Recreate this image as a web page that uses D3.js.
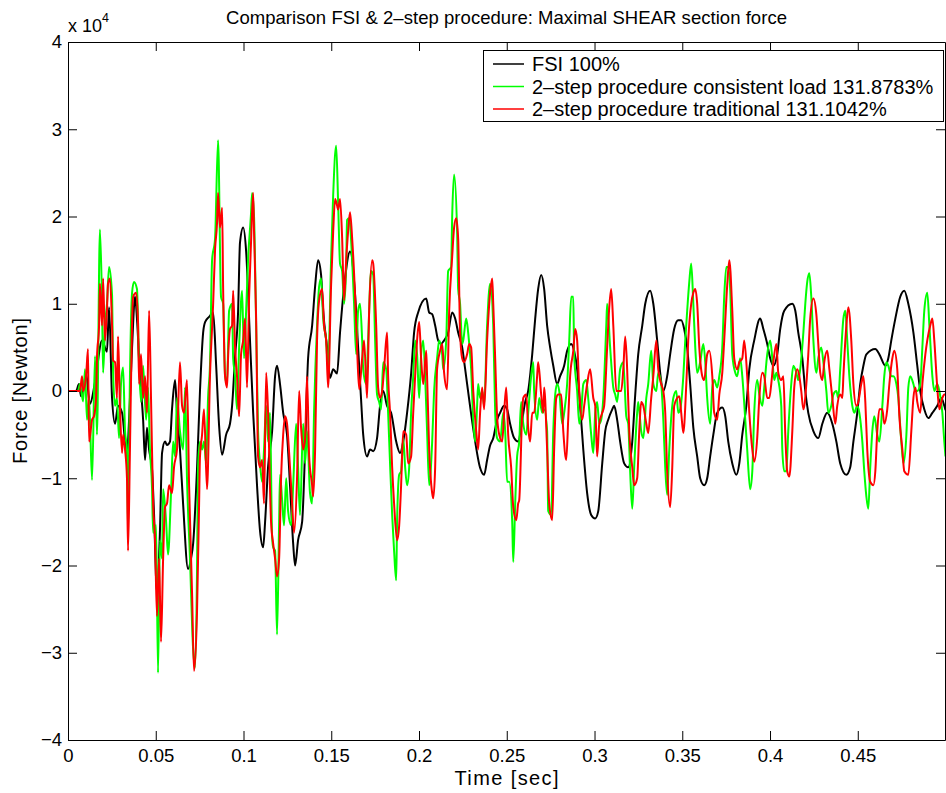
<!DOCTYPE html>
<html><head><meta charset="utf-8">
<script src="https://cdn.jsdelivr.net/npm/d3@7"></script>
<style>body{margin:0;background:#fff} text{font-family:"Liberation Sans",Arial,Helvetica,sans-serif}</style>
</head><body><svg id="c" width="946" height="793"></svg>
<script>
// time in milliseconds, force in units of 10^4 N
const xTicks=[0,50,100,150,200,250,300,350,400,450];
const xTickLabels=["0","0.05","0.1","0.15","0.2","0.25","0.3","0.35","0.4","0.45"];
const yTicks=[-4,-3,-2,-1,0,1,2,3,4];
const yTickLabels=["\u22124","\u22123","\u22122","\u22121","0","1","2","3","4"];
const seriesNames=["FSI 100%","2\u2013step procedure consistent load 131.8783%","2\u2013step procedure traditional 131.1042%"];
const seriesColors=["#000000","#00ff00","#ff0000"];

const fsi=[[0,0],[4.6,0],[6.3,0.08],[7.4,-0.06],[8.6,0],[10.3,0.2],[12.5,-0.15],[15.4,0.1],[19.4,0.58],[22.2,0.45],[23.4,0.96],[25.1,-0.08],[26.8,-0.375],[28.5,-0.17],[30.8,-0.25],[33.6,-0.75],[34.8,-0.33],[36.5,0.5],[38.2,1.08],[39.3,0.83],[41.0,0.17],[42.8,-0.33],[43.9,-0.79],[45.0,-0.42],[46.2,-0.67],[47.9,-0.9],[49.0,-1.4],[50.7,-2.3],[52.4,-1.6],[53.6,-0.71],[55.3,-0.58],[56.4,-0.62],[58.1,-0.58],[59.3,-0.2],[61.0,0.125],[62.1,-0.25],[63.8,-0.67],[65.6,-1.3],[68.4,-2.04],[70.1,-1.92],[71.3,-1.75],[73.5,-0.9],[75.2,0],[77.0,0.67],[78.1,0.79],[80.4,0.85],[82.7,0.9],[84.4,0.3],[86.1,-0.4],[87.8,-0.73],[90.1,-0.5],[92.3,-0.375],[93.5,-0.17],[95.2,0.4],[96.9,0.9],[98.0,1.7],[99.8,1.875],[101.5,1.6],[103.7,0.58],[105.5,-0.25],[107.7,-1.08],[109.4,-1.6],[111.2,-1.79],[112.3,-1.5],[114.0,-0.87],[116.3,-0.46],[118.0,0.17],[119.1,0.29],[120.8,0.08],[122.6,-0.25],[124.8,-0.5],[126.5,-1.08],[128.3,-1.75],[129.4,-2.0],[131.1,-1.71],[133.4,-1.5],[135.1,-0.67],[136.8,0.375],[139.1,0.75],[140.8,1.2],[142.5,1.5],[144.2,1.33],[145.4,0.92],[147.6,0.5],[149.3,0.15],[151.1,0.25],[153.3,0.2],[155.0,0.67],[157.9,1.3],[160.7,1.6],[163.6,1.1],[165.3,0.5],[167.0,-0.1],[168.2,-0.5],[170.4,-0.75],[172.1,-0.67],[173.9,-0.69],[176.1,-0.54],[177.8,-0.17],[179.6,0.0],[181.8,-0.17],[184.1,-0.25],[187.0,-0.58],[189.2,-0.71],[191.0,-0.58],[193.2,-0.25],[195.5,0.2],[197.2,0.67],[199.5,0.9],[204.1,1.06],[205.8,0.9],[207.5,0.88],[209.2,0.75],[210.9,0.58],[212.6,0.54],[214.3,0.58],[216.6,0.67],[218.9,0.9],[220.6,0.83],[222.3,0.67],[224.6,0.5],[226.3,0.25],[228.6,-0.1],[231.4,-0.5],[234.8,-0.88],[237.1,-0.96],[238.8,-0.79],[240.5,-0.625],[242.3,-0.54],[244.5,-0.33],[246.2,-0.25],[248.5,-0.17],[250.2,-0.21],[251.9,-0.375],[254.2,-0.54],[256.5,-0.58],[258.8,-0.33],[260.5,-0.125],[262.2,0.0],[264.5,0.42],[266.2,0.83],[267.9,1.17],[269.6,1.33],[271.3,1.17],[273.0,0.75],[274.7,0.5],[276.5,0.29],[278.7,0.08],[280.4,0.17],[282.7,0.29],[284.4,0.46],[286.7,0.54],[288.4,0.46],[290.1,0.25],[291.8,-0.17],[293.6,-0.67],[295.8,-1.17],[298.1,-1.42],[300.4,-1.46],[302.1,-1.38],[304.4,-0.83],[306.1,-0.46],[307.8,-0.33],[310.1,-0.21],[311.2,-0.17],[312.9,-0.33],[314.6,-0.58],[316.9,-0.83],[319.2,-0.875],[321.5,-0.58],[323.2,-0.04],[324.9,0.42],[327.2,0.75],[328.9,1.0],[331.7,1.15],[333.5,1.0],[335.7,0.58],[337.4,0.21],[339.2,0.0],[341.4,0.17],[343.1,0.42],[345.4,0.71],[347.7,0.81],[349.4,0.81],[351.1,0.71],[352.8,0.5],[354.5,0.08],[356.3,-0.42],[358.5,-0.75],[360.2,-1.0],[362.5,-1.08],[364.2,-1.0],[365.9,-0.75],[367.7,-0.5],[369.9,-0.25],[372.8,-0.19],[374.5,-0.29],[376.2,-0.58],[378.5,-0.83],[380.8,-0.96],[382.5,-0.83],[384.2,-0.5],[386.5,-0.17],[388.2,0.25],[391.0,0.58],[394.4,0.83],[396.2,0.71],[398.4,0.54],[400.1,0.375],[401.9,0.29],[404.1,0.42],[405.8,0.71],[408.1,0.92],[412.7,1.0],[414.4,0.92],[416.1,0.67],[418.4,0.375],[420.1,0.0],[421.8,-0.25],[424.7,-0.46],[427.5,-0.54],[429.8,-0.375],[432.6,-0.25],[435.5,-0.375],[437.8,-0.58],[440.0,-0.83],[443.5,-0.96],[445.7,-0.875],[447.5,-0.58],[449.7,-0.25],[451.4,0.08],[453.2,0.29],[454.9,0.42],[460.0,0.48],[462.3,0.42],[465.7,0.29],[467.4,0.375],[469.1,0.58],[471.4,0.83],[474.2,1.08],[476.5,1.15],[478.8,1.0],[481.7,0.67],[483.9,0.29],[485.6,0.0],[487.9,-0.21],[490.2,-0.31],[492.5,-0.25],[495.3,-0.17],[497.6,-0.08],[499.3,-0.17],[500,-0.22]];

const consistentLoad=[[0,0],[5.7,0],[6.8,0.08],[8.6,-0.12],[9.7,0.25],[10.8,-0.33],[12.0,-0.08],[13.7,-1.02],[15.4,0.4],[16.5,-0.5],[18.2,1.85],[19.4,1.0],[20.0,0.21],[21.1,0.75],[22.2,1.0],[23.4,1.42],[25.1,1.1],[25.7,0.21],[26.8,-0.17],[27.9,-0.08],[29.1,-0.54],[30.2,0.08],[31.4,0.27],[32.5,-0.46],[33.6,-0.67],[34.2,-1.625],[35.3,0.17],[36.5,1.125],[37.6,1.25],[39.3,1.17],[40.5,0.29],[41.6,-0.125],[42.8,0.29],[44.5,-0.33],[45.6,0.04],[46.7,-0.67],[47.9,-1.125],[48.5,-1.625],[50.2,-1.54],[51.3,-3.23],[52.4,-1.71],[53.6,-1.92],[54.2,-1.125],[55.9,-1.5],[57.0,-1.875],[58.7,-1.17],[59.9,-0.58],[61.0,-0.75],[62.1,-0.08],[63.8,-0.46],[65.6,-0.67],[66.7,0.04],[67.8,-1.0],[69.5,-1.92],[71.3,-2.96],[72.4,-3.17],[73.5,-2.1],[74.1,-0.875],[75.2,-0.58],[76.4,-0.67],[77.5,-0.58],[78.7,-0.83],[79.8,-0.08],[80.9,0.3],[82.1,1.5],[83.8,1.75],[85.5,2.875],[87.2,1.08],[88.4,1.0],[89.5,0.17],[90.6,0.08],[91.8,0.92],[93.5,1.0],[94.1,0.375],[95.2,0.17],[96.3,-0.21],[97.5,0.5],[99.2,1.15],[100.3,0.375],[101.5,0.92],[102.6,1.5],[104.3,2.04],[104.9,2.27],[106.0,2.0],[107.2,0.75],[108.3,-0.46],[109.4,-0.83],[110.6,-1.04],[111.7,-0.67],[112.9,-0.17],[114.0,-0.58],[115.1,-0.25],[116.3,-1.67],[116.9,-1.79],[118.0,-1.83],[119.1,-2.79],[120.3,-1.5],[120.8,-0.96],[122.0,-1.25],[123.1,-1.54],[124.3,-1.0],[125.4,-1.375],[127.1,-1.54],[128.3,-1.08],[130.0,-0.375],[131.1,-0.875],[132.2,-1.42],[134.0,-0.375],[135.1,-0.83],[136.2,-0.46],[137.9,-1.17],[139.1,-1.29],[140.2,-0.25],[141.9,0.75],[143.1,1.2],[144.2,1.29],[145.4,0.83],[147.1,0.58],[148.2,0.25],[149.9,1.5],[151.1,2.25],[152.8,2.81],[153.9,2.17],[155.0,1.46],[156.2,1.375],[157.3,1.0],[158.5,1.42],[159.0,1.96],[160.2,1.98],[161.9,1.5],[163.0,1.0],[164.2,0.42],[165.3,0.92],[166.4,1.0],[167.6,0.58],[168.2,0.25],[169.9,0.08],[171.0,0.58],[172.7,1.375],[173.9,1.33],[175.0,0.58],[176.1,-0.04],[177.3,-0.125],[178.4,-0.21],[179.6,0.33],[181.3,0.25],[182.4,-0.25],[183.5,-0.83],[184.7,-1.42],[185.8,-1.83],[187.0,-2.17],[187.5,-1.5],[188.7,-0.96],[189.8,-0.92],[191.0,-0.54],[192.1,-0.875],[193.2,-1.08],[194.4,-0.875],[195.5,-0.25],[196.7,0.17],[197.8,0.58],[198.9,0.42],[200.1,-0.08],[201.2,0.42],[202.4,0.58],[203.5,0.17],[204.6,-0.46],[205.8,-1.08],[207.5,-0.58],[208.6,0.0],[210.3,0.375],[211.5,0.58],[213.2,0.42],[213.8,0.25],[215.5,0.58],[216.6,1.375],[218.3,1.42],[218.9,2.0],[220.0,2.48],[221.7,1.83],[222.3,1.17],[223.4,1.0],[224.6,0.54],[225.2,0.58],[226.9,0.83],[228.0,0.67],[229.7,0.25],[230.9,-0.33],[232.0,-0.58],[233.1,-0.17],[233.7,0.08],[234.8,-0.08],[236.0,0.0],[237.1,-0.17],[238.8,0.75],[240.5,1.23],[242.3,0.75],[243.4,-0.25],[244.5,-0.54],[246.2,-0.58],[248.0,-0.25],[249.1,-0.46],[250.2,-1.04],[251.4,-1.04],[253.1,-1.5],[253.7,-1.96],[254.8,-1.29],[255.9,-0.75],[257.1,-0.58],[258.2,-0.125],[259.4,-0.375],[261.1,-0.5],[262.2,-0.25],[263.9,0.17],[265.1,0.33],[265.6,0.0],[267.3,-0.33],[268.5,-0.08],[270.2,-0.25],[271.3,-0.21],[273.0,-0.46],[273.6,-1.375],[275.3,-1.42],[276.5,-0.46],[277.6,-0.04],[278.7,0.08],[279.9,0.0],[281.6,-0.375],[282.7,-0.25],[284.4,0.08],[285.6,0.58],[286.7,1.08],[287.9,1.08],[288.4,0.42],[290.1,0.0],[291.3,-0.375],[292.4,-0.25],[293.6,0.08],[295.3,0.125],[296.4,-0.08],[298.1,-0.5],[299.3,-0.71],[300.4,-0.25],[301.5,-0.125],[302.7,-0.375],[303.8,-0.33],[305.0,-0.08],[306.7,0.75],[307.2,1.0],[308.9,0.5],[310.7,0.04],[311.8,-0.04],[312.9,-0.125],[314.6,0.25],[316.4,0.33],[318.1,-0.29],[319.2,-0.375],[320.3,-0.92],[321.5,-1.35],[322.6,-0.875],[324.3,-0.25],[324.9,-0.125],[326.6,-0.46],[327.8,-0.54],[329.5,-0.08],[330.6,0.08],[332.3,0.46],[333.5,0.08],[335.2,0.0],[336.3,0.21],[338.0,0.08],[339.2,-0.33],[340.3,-0.875],[341.4,-1.19],[342.6,-0.67],[344.3,-0.17],[344.9,-0.08],[346.6,0.0],[347.7,-0.25],[348.8,-0.21],[350.6,0.17],[351.7,0.58],[352.8,0.92],[354.0,1.25],[355.1,1.46],[356.3,1.0],[357.4,0.5],[358.5,0.21],[360.2,0.33],[362.0,0.54],[363.1,0.33],[364.2,-0.08],[365.9,-0.375],[367.1,0.04],[368.2,0.125],[369.9,0.04],[371.1,0.17],[372.8,0.5],[373.9,1.08],[375.1,1.42],[376.2,1.42],[377.3,1.17],[378.5,0.42],[380.2,0.21],[381.3,0.17],[383.0,0.375],[384.2,0.17],[385.9,-0.33],[387.0,-0.67],[388.7,-1.125],[389.9,-0.92],[391.0,-0.25],[392.7,0.125],[393.9,-0.04],[395.6,-0.17],[396.7,0.04],[398.4,0.42],[400.1,0.58],[401.3,0.375],[402.4,0.125],[403.6,0.21],[404.7,0.125],[406.4,-0.17],[407.0,-0.67],[408.1,-0.92],[409.3,-0.92],[410.4,-0.46],[412.1,0.08],[413.3,0.29],[415.0,0.21],[416.1,0.125],[417.2,0.25],[419.0,0.67],[420.1,1.0],[421.2,1.25],[422.4,1.35],[423.5,1.08],[424.7,0.58],[426.4,0.21],[427.5,0.375],[429.2,0.5],[430.4,0.33],[432.1,0.0],[433.2,-0.25],[434.9,-0.17],[436.1,-0.04],[437.8,0.0],[438.9,-0.08],[440.0,0.25],[441.8,0.83],[442.9,0.92],[444.0,0.58],[445.2,0.17],[446.9,-0.17],[448.0,-0.25],[449.7,-0.17],[450.9,-0.25],[452.6,-0.58],[453.7,-0.92],[454.9,-1.21],[456.0,-1.35],[457.1,-0.875],[458.3,-0.46],[459.4,-0.29],[461.1,-0.5],[462.3,-0.58],[464.0,-0.17],[465.1,0.17],[466.3,0.33],[467.4,0.29],[469.1,0.17],[470.3,0.17],[472.0,0.08],[473.1,-0.08],[474.8,-0.58],[476.0,-0.83],[477.7,-0.5],[478.8,0.04],[479.9,0.17],[481.7,0.08],[482.8,0.0],[483.9,0.0],[485.6,0.08],[486.8,0.5],[487.9,0.92],[489.6,1.125],[490.8,0.75],[492.5,0.17],[493.6,0.0],[495.3,0.08],[496.5,0.0],[498.2,-0.25],[499.3,-0.58],[500,-0.75]];

const traditional=[[0,0],[6.8,0],[8.0,0.17],[8.6,0],[10.3,0.17],[11.4,0.48],[12.0,-0.58],[13.7,-0.33],[14.8,-0.29],[16.0,-0.08],[16.5,0.375],[17.7,0.75],[18.2,1.23],[19.4,0.75],[20.0,1.29],[21.1,0.58],[22.2,0.92],[22.8,1.23],[23.9,1.29],[25.1,0.75],[25.7,0.35],[26.8,0.33],[27.9,-0.08],[28.5,0.625],[29.6,-0.17],[30.8,-0.71],[31.4,-0.5],[32.5,-0.67],[33.6,-1.0],[34.2,-1.83],[35.3,-0.67],[36.5,0.79],[37.1,1.08],[38.8,1.125],[39.9,0.79],[40.5,0.08],[41.6,0.42],[42.8,-0.08],[43.9,0.17],[45.0,-0.25],[46.2,0.92],[47.3,-0.08],[48.5,-1.29],[49.6,-1.71],[50.7,-2.58],[51.9,-1.92],[53.0,-2.875],[54.2,-1.92],[55.3,-1.33],[56.4,-1.29],[57.6,-1.08],[59.3,-1.17],[60.4,-0.875],[62.1,-0.67],[62.7,-0.25],[63.8,0.33],[65.0,-0.17],[66.1,-0.25],[67.8,0.125],[69.0,-1.08],[70.7,-2.33],[71.8,-3.21],[73.5,-2.54],[74.7,-1.29],[75.2,-0.75],[76.4,-0.5],[77.5,-0.21],[79.2,-1.125],[80.9,0.17],[82.7,1.0],[83.8,1.625],[84.9,1.92],[85.5,2.27],[86.6,1.875],[87.8,2.1],[88.4,1.17],[89.5,0.17],[90.6,0.04],[91.2,0.375],[92.3,0.71],[93.5,0.75],[94.1,1.15],[95.2,0.5],[96.3,0.17],[97.5,-0.29],[98.6,0.42],[99.8,0.58],[100.9,0.83],[102.0,0.04],[103.2,1.08],[104.3,1.71],[105.5,2.27],[106.0,1.83],[107.2,0.83],[108.3,-0.75],[109.4,-0.875],[110.6,-0.79],[111.7,-1.29],[112.9,0.21],[114.0,-0.25],[115.7,-1.5],[116.9,-1.75],[118.0,-1.92],[119.1,-2.125],[120.3,-1.92],[121.4,-1.0],[122.6,-0.5],[123.7,-0.29],[124.8,-0.375],[126.0,-0.71],[127.7,-1.29],[128.8,-1.625],[130.5,-1.0],[131.7,0.0],[132.8,-0.42],[134.0,-0.67],[135.1,-0.54],[136.2,0.17],[137.4,-0.75],[139.1,-1.08],[139.7,-1.21],[140.8,-0.67],[141.9,0.58],[143.1,1.04],[144.8,1.17],[145.9,0.75],[147.1,0.58],[148.2,0.04],[149.9,1.21],[151.1,1.83],[152.2,2.2],[153.3,2.125],[153.9,2.08],[155.0,2.2],[156.2,1.75],[157.3,1.04],[158.5,1.5],[159.6,1.83],[160.7,2.05],[161.9,1.75],[163.6,1.08],[164.7,0.5],[165.9,0.02],[167.6,0.375],[168.7,0.58],[170.4,-0.08],[171.6,0.92],[173.3,1.5],[173.9,1.46],[175.6,0.75],[176.7,0.04],[177.8,-0.08],[179.0,0.0],[180.1,0.25],[181.8,0.67],[182.4,0.17],[183.5,-0.25],[184.7,-0.875],[185.8,-1.29],[187.5,-1.71],[188.7,-1.54],[189.8,-1.08],[191.0,-0.46],[192.7,-0.5],[193.8,-0.83],[195.5,-0.75],[196.7,-0.25],[197.8,0.17],[198.9,0.58],[200.1,0.79],[201.2,0.375],[202.4,0.08],[204.1,0.46],[204.6,0.17],[205.8,-0.67],[207.5,-1.17],[208.1,-1.23],[209.2,-0.875],[210.3,0.25],[212.0,0.46],[213.2,0.54],[214.3,0.21],[216.0,0.02],[217.2,0.92],[218.9,1.54],[220.0,1.875],[221.2,1.98],[222.3,1.75],[223.4,0.67],[224.6,0.375],[225.7,0.33],[227.4,0.42],[228.6,0.54],[229.7,0.5],[230.9,0.0],[232.6,-0.46],[233.7,-0.67],[234.8,-0.25],[236.0,0.04],[237.1,-0.21],[238.8,0.58],[240.5,1.125],[241.7,1.29],[242.3,1.0],[243.4,0.375],[244.5,-0.29],[245.7,-0.5],[247.4,-0.58],[248.5,-0.25],[249.7,0.04],[250.8,-0.5],[252.5,-0.875],[253.7,-1.33],[255.4,-1.48],[256.5,-1.29],[257.1,-1.25],[258.8,-0.25],[259.4,-0.08],[261.1,-0.04],[262.2,-0.42],[263.3,-0.58],[264.5,-0.25],[265.6,-0.25],[267.3,0.17],[267.9,0.33],[269.6,-0.04],[270.8,-0.25],[271.3,0.04],[273.0,-0.67],[274.2,-1.29],[275.9,-1.48],[277.0,-0.67],[278.2,-0.08],[279.3,-0.04],[281.0,-0.04],[282.2,-0.46],[283.9,-0.79],[285.0,-0.33],[286.1,0.17],[287.9,0.46],[289.0,0.71],[290.1,0.58],[291.3,0.0],[293.0,-0.33],[294.1,-0.17],[295.8,0.08],[297.5,0.25],[299.3,-0.08],[300.4,-0.17],[301.5,-0.75],[302.7,-0.375],[304.4,-0.25],[305.5,-0.17],[307.2,0.5],[308.4,0.96],[309.5,1.17],[310.7,0.75],[312.4,0.0],[313.5,0.0],[315.2,0.0],[316.4,0.25],[317.5,0.625],[318.6,0.25],[319.8,-0.46],[321.5,-0.875],[322.6,-1.08],[324.3,-1.0],[325.5,-0.46],[326.6,-0.125],[327.8,-0.17],[329.5,-0.375],[330.6,-0.48],[332.3,-0.08],[333.5,0.17],[335.2,0.58],[336.3,0.25],[338.0,0.08],[339.2,0.0],[340.3,-0.25],[341.4,-0.92],[343.1,-1.33],[344.3,-0.875],[345.4,-0.17],[347.1,-0.08],[348.3,-0.06],[349.4,-0.25],[350.6,-0.48],[352.3,0.08],[353.4,0.58],[355.1,1.0],[356.3,1.125],[357.4,1.17],[358.5,1.0],[359.7,0.5],[361.4,0.17],[362.5,0.125],[364.2,0.42],[365.4,0.46],[367.1,0.17],[368.2,-0.25],[369.9,-0.33],[371.1,-0.04],[372.8,0.21],[373.9,0.58],[375.6,1.21],[376.8,1.5],[378.5,0.92],[379.6,0.375],[381.3,0.25],[382.5,0.33],[384.2,0.375],[385.3,0.58],[387.0,0.17],[388.2,-0.25],[389.9,-0.67],[391.0,-0.81],[392.7,-0.54],[393.9,-0.08],[395.6,0.21],[396.7,0.17],[398.4,-0.08],[399.6,-0.08],[400.7,0.08],[401.9,0.33],[403.6,0.54],[404.7,0.21],[406.4,0.125],[407.6,0.17],[408.7,-0.5],[409.8,-0.92],[411.0,-0.98],[412.7,-0.46],[413.8,0.04],[415.5,0.25],[416.7,0.17],[417.8,0.0],[419.0,-0.21],[420.7,0.08],[421.8,0.42],[422.9,0.83],[424.7,1.06],[426.4,0.875],[427.5,0.54],[428.6,0.21],[429.8,0.125],[430.9,0.33],[432.6,0.46],[433.8,0.25],[435.5,-0.08],[437.2,-0.375],[438.3,-0.17],[440.0,-0.04],[441.2,-0.08],[441.8,0.17],[443.5,0.75],[444.6,0.96],[446.3,0.58],[447.5,0.08],[449.2,-0.17],[450.3,-0.125],[452.0,0.08],[453.2,0.17],[454.3,-0.125],[455.4,-0.67],[457.1,-1.04],[458.9,-1.08],[460.0,-0.92],[461.1,-0.46],[462.3,-0.21],[464.0,-0.21],[465.1,-0.375],[466.8,-0.21],[468.0,0.08],[469.7,0.375],[470.8,0.46],[472.5,0.25],[473.7,-0.29],[475.4,-0.67],[476.5,-0.92],[478.8,-0.96],[480.5,-0.46],[481.7,-0.08],[482.8,0.04],[483.9,-0.125],[485.6,-0.25],[486.8,0.08],[488.5,0.42],[489.6,0.58],[491.3,0.75],[492.5,0.83],[493.6,0.58],[495.3,0.04],[496.5,-0.21],[498.2,-0.08],[499.3,-0.04],[500,-0.04]];

const svg=d3.select("#c");
svg.append("rect").attr("width",946).attr("height",793).attr("fill","#fff");
const L=68,R=945,T=42,B=740;
const x=d3.scaleLinear().domain([0,499.7]).range([L,R]);
const y=d3.scaleLinear().domain([-4,4]).range([B,T]);

svg.append("defs").append("clipPath").attr("id","clip")
  .append("rect").attr("x",L).attr("y",T).attr("width",R-L).attr("height",B-T);

const line=d3.line().x(d=>x(d[0])).y(d=>y(d[1])).curve(d3.curveMonotoneX);
const g=svg.append("g").attr("clip-path","url(#clip)");
[fsi,consistentLoad,traditional].forEach((s,i)=>{
  g.append("path").datum(s).attr("d",line).attr("fill","none")
   .attr("stroke",seriesColors[i]).attr("stroke-width",2).attr("stroke-linejoin","round");
});

function styleAxis(a){
  a.select(".domain").attr("stroke","#000").attr("stroke-width",1);
  a.selectAll(".tick line").attr("stroke","#000");
  a.attr("font-family",'"Liberation Sans",Arial,sans-serif').attr("font-size",18.5);
  a.selectAll("text").attr("fill","#000");
}
const ax=svg.append("g").attr("transform",`translate(0,${B})`)
  .call(d3.axisBottom(x).tickValues(xTicks).tickFormat((d,i)=>xTickLabels[i]).tickSizeInner(-9).tickSizeOuter(0).tickPadding(9));
styleAxis(ax);
const axT=svg.append("g").attr("transform",`translate(0,${T})`)
  .call(d3.axisTop(x).tickValues(xTicks).tickFormat("").tickSizeInner(-9).tickSizeOuter(0));
styleAxis(axT);
const ay=svg.append("g").attr("transform",`translate(${L},0)`)
  .call(d3.axisLeft(y).tickValues(yTicks).tickFormat((d,i)=>yTickLabels[i]).tickSizeInner(-9).tickSizeOuter(0).tickPadding(6));
styleAxis(ay);
const ayR=svg.append("g").attr("transform",`translate(${R},0)`)
  .call(d3.axisRight(y).tickValues(yTicks).tickFormat("").tickSizeInner(-9).tickSizeOuter(0));
styleAxis(ayR);

// exponent label
const ex=svg.append("text").attr("x",68).attr("y",32).attr("font-size",18).attr("fill","#000");
ex.append("tspan").text("x 10");
ex.append("tspan").attr("dy",-10).attr("font-size",12.5).text("4");

svg.append("text").attr("x",(L+R)/2).attr("y",24).attr("text-anchor","middle")
  .attr("font-size",18.5).attr("fill","#000")
  .attr("textLength",561).attr("lengthAdjust","spacing")
  .text("Comparison FSI & 2\u2013step procedure: Maximal SHEAR section force");
svg.append("text").attr("x",(L+R)/2).attr("y",785).attr("text-anchor","middle")
  .attr("font-size",20).attr("fill","#000")
  .attr("textLength",104).attr("lengthAdjust","spacing").text("Time [sec]");
svg.append("text").attr("transform",`translate(27,${(T+B)/2}) rotate(-90)`).attr("text-anchor","middle")
  .attr("font-size",20).attr("fill","#000")
  .attr("textLength",146).attr("lengthAdjust","spacing").text("Force [Newton]");

// legend
const lg=svg.append("g");
lg.append("rect").attr("x",483.5).attr("y",50.5).attr("width",460).attr("height",71)
  .attr("fill","#fff").attr("stroke","#000").attr("stroke-width",1);
seriesNames.forEach((n,i)=>{
  const yy=64+i*22.5;
  lg.append("line").attr("x1",493).attr("x2",524).attr("y1",yy).attr("y2",yy)
    .attr("stroke",seriesColors[i]).attr("stroke-width",1.5);
  lg.append("text").attr("x",532).attr("y",yy+7).attr("font-size",20).attr("fill","#000").text(n);
});
</script></body></html>
